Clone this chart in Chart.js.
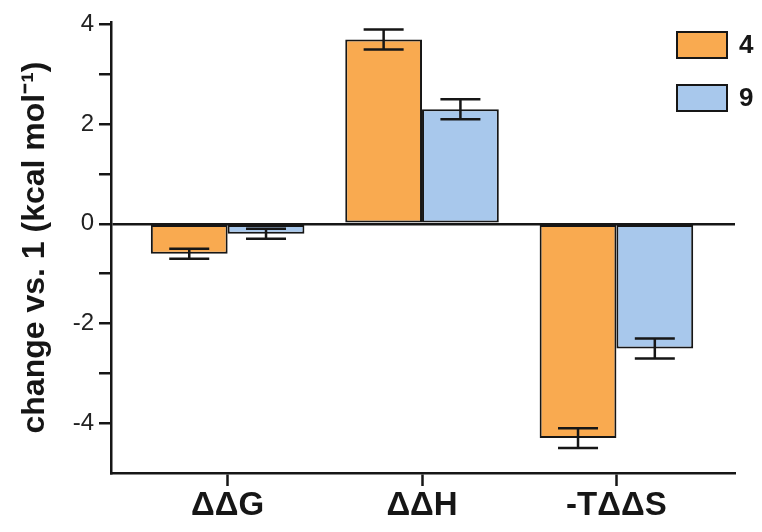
<!DOCTYPE html>
<html>
<head>
<meta charset="utf-8">
<script src="https://cdn.jsdelivr.net/npm/chart.js@4.4.1/dist/chart.umd.min.js"></script>
<style>
    body { margin: 0; background: #fff; }
    #wrap { width: 762px; height: 532px; position: relative; }
</style>
</head>
<body>
<div id="wrap"><canvas id="energy-chart"></canvas></div>
<script>
// カテゴリ
const categories = ["ΔΔG", "ΔΔH", "-TΔΔS"];
// 系列名
const seriesNames = ["4", "9"];
// 値 (kcal/mol)
const values4 = [-0.6, 3.7, -4.3];
const values9 = [-0.2, 2.3, -2.5];
// 誤差
const errors4 = [0.1, 0.2, 0.2];
const errors9 = [0.1, 0.2, 0.2];
// 目盛
const yTickLabels = [-4, -2, 0, 2, 4];

const seriesValues = [values4, values9];
const seriesErrors = [errors4, errors9];
const seriesColors = ["#f9aa50", "#a8c8ec"];
const inkColor = "#161616";
const fontFamily = "'Liberation Sans', Arial, sans-serif";

// カテゴリ中心位置 (軸の左端から0.6区間)
const catOffset = 0.6;

// 誤差棒
const errorBarPlugin = {
    id: "errorBars",
    afterDatasetsDraw(chart) {
        const { ctx, scales } = chart;
        const yScale = scales.y;
        ctx.save();
        ctx.strokeStyle = inkColor;
        ctx.lineWidth = 2.5;
        chart.data.datasets.forEach((ds, i) => {
            const meta = chart.getDatasetMeta(i);
            meta.data.forEach((bar, j) => {
                const v = seriesValues[i][j];
                const e = seriesErrors[i][j];
                const yHi = yScale.getPixelForValue(v + e);
                const yLo = yScale.getPixelForValue(v - e);
                const half = 20;
                ctx.beginPath();
                ctx.moveTo(bar.x, yHi);
                ctx.lineTo(bar.x, yLo);
                ctx.moveTo(bar.x - half, yHi);
                ctx.lineTo(bar.x + half, yHi);
                ctx.moveTo(bar.x - half, yLo);
                ctx.lineTo(bar.x + half, yLo);
                ctx.stroke();
            });
        });
        ctx.restore();
    }
};

// 凡例 (右上)
const boxLegendPlugin = {
    id: "boxLegend",
    afterDraw(chart) {
        const { ctx, chartArea } = chart;
        ctx.save();
        chart.data.datasets.forEach((ds, i) => {
            const bx = chartArea.right - 58;
            const by = chartArea.top + 10 + i * 53;
            ctx.fillStyle = ds.backgroundColor;
            ctx.fillRect(bx, by, 50, 26);
            ctx.strokeStyle = inkColor;
            ctx.lineWidth = 2;
            ctx.strokeRect(bx, by, 50, 26);
            ctx.fillStyle = inkColor;
            ctx.font = "bold 26px " + fontFamily;
            ctx.textBaseline = "middle";
            ctx.textAlign = "left";
            ctx.fillText(ds.label, bx + 62, by + 14);
        });
        ctx.restore();
    }
};

new Chart(document.getElementById("energy-chart"), {
    type: "bar",
    data: {
        datasets: seriesNames.map((name, i) => ({
            label: name,
            data: seriesValues[i].map((v, j) => ({ x: j + catOffset, y: v })),
            backgroundColor: seriesColors[i],
            borderColor: inkColor,
            borderWidth: 2,
            borderSkipped: false,
            categoryPercentage: 0.79,
            barPercentage: 1.0
        }))
    },
    options: {
        responsive: true,
        maintainAspectRatio: false,
        animation: false,
        layout: {
            padding: { top: 22, right: 27, left: 0, bottom: 0 }
        },
        scales: {
            x: {
                type: "linear",
                offset: false,
                min: 0,
                max: 3.21,
                afterBuildTicks(scale) {
                    scale.ticks = categories.map((c, i) => ({ value: i + catOffset }));
                },
                afterFit(scale) {
                    scale.height = 59;
                },
                ticks: {
                    autoSkip: false,
                    maxRotation: 0,
                    padding: 0,
                    color: inkColor,
                    font: { family: fontFamily, size: 33, weight: "bold" },
                    callback: (value, index) => categories[index]
                },
                grid: {
                    offset: false,
                    drawOnChartArea: false,
                    tickLength: 13,
                    tickColor: inkColor,
                    tickWidth: 2.5
                },
                border: { display: true, color: inkColor, width: 2.5 }
            },
            y: {
                min: -5,
                max: 4.05,
                afterBuildTicks(scale) {
                    const t = [];
                    for (let v = -5; v <= 4; v++) t.push({ value: v });
                    scale.ticks = t;
                },
                afterFit(scale) {
                    scale.width = 111;
                },
                ticks: {
                    padding: 5,
                    color: "#222",
                    font: { family: fontFamily, size: 24 },
                    callback: (value) => yTickLabels.includes(value) ? String(value) : ""
                },
                grid: {
                    drawOnChartArea: true,
                    color: (ctx) => (ctx.tick && ctx.tick.value === 0) ? inkColor : "rgba(0,0,0,0)",
                    lineWidth: 2.5,
                    tickLength: 12,
                    tickColor: (ctx) => (ctx.tick && ctx.tick.value === -5) ? "rgba(0,0,0,0)" : inkColor,
                    tickWidth: 2.5
                },
                border: { display: true, color: inkColor, width: 2.5 },
                title: {
                    display: true,
                    text: "change vs. 1 (kcal mol⁻¹)",
                    color: inkColor,
                    padding: { top: 16, bottom: 0 },
                    font: { family: fontFamily, size: 32, weight: "bold" }
                }
            }
        },
        plugins: {
            legend: { display: false },
            tooltip: { enabled: false }
        }
    },
    plugins: [errorBarPlugin, boxLegendPlugin]
});
</script>
</body>
</html>
